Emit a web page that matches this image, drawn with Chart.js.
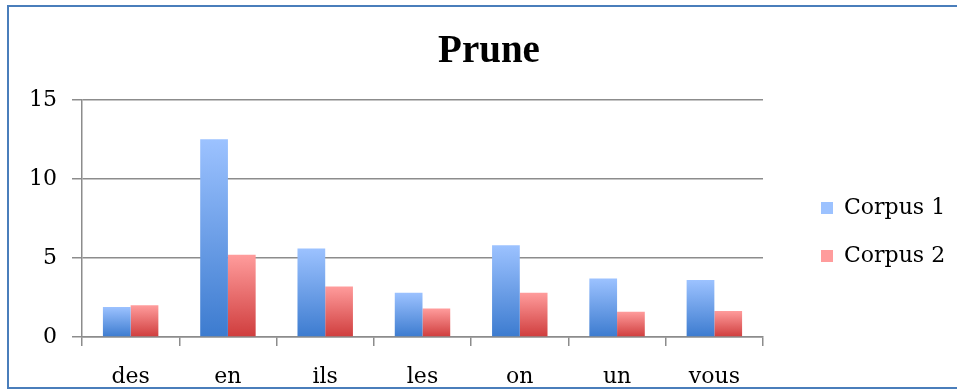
<!DOCTYPE html>
<html>
<head>
<meta charset="utf-8">
<script src="https://cdn.jsdelivr.net/npm/chart.js@4"></script>
<style>
  body { margin: 0; background: #fff; }
  #frame {
    position: absolute; left: 7px; top: 5px;
    width: 960px; height: 380px;
    border-left: 2px solid #4a7ebb; border-top: 2px solid #4a7ebb; border-bottom: 2px solid #4a7ebb;
    overflow: hidden;
  }
  #myChart { position: absolute; left: 0; top: 0; }
</style>
</head>
<body>
<div id="frame"><canvas id="myChart" width="960" height="400"></canvas></div>
<script>
var categories = ["des", "en", "ils", "les", "on", "un", "vous"];
var corpus1 = [1.9, 12.5, 5.6, 2.8, 5.8, 3.7, 3.6];
var corpus2 = [2.0, 5.2, 3.2, 1.8, 2.8, 1.6, 1.65];

var serif = "'DejaVu Serif', serif";

// vertical gradient from the top of each bar down to the zero line
function barGradient(top, bottom, mid) {
  return function(ctx) {
    var chart = ctx.chart;
    if (!chart.chartArea || ctx.raw === undefined) return mid;
    var y = chart.scales.y;
    var g = chart.ctx.createLinearGradient(0, y.getPixelForValue(ctx.raw), 0, y.getPixelForValue(0));
    g.addColorStop(0, top);
    g.addColorStop(1, bottom);
    return g;
  };
}

// leave some empty room on the right side of the legend
var legendRoom = {
  id: "legendRoom",
  beforeLayout: function(chart) {
    var lg = chart.legend;
    if (lg && !lg._roomAdded) {
      var fit = lg.fit;
      lg.fit = function() {
        fit.call(this);
        this.width += 14;
      };
      lg._roomAdded = true;
    }
  }
};

var ctx = document.getElementById("myChart").getContext("2d");
var myChart = new Chart(ctx, {
  type: "bar",
  data: {
    labels: categories,
    datasets: [
      { label: "Corpus 1", data: corpus1, backgroundColor: barGradient("#9cc2ff", "#3c7bcf", "#5f95e2") },
      { label: "Corpus 2", data: corpus2, backgroundColor: barGradient("#ff9c9c", "#cf3d3d", "#e66a6a") }
    ]
  },
  plugins: [legendRoom],
  options: {
    responsive: false,
    animation: false,
    layout: { padding: 0 },
    datasets: { bar: { categoryPercentage: 0.57, barPercentage: 1.0 } },
    plugins: {
      title: {
        display: true,
        text: "Prune",
        color: "#000",
        font: { family: "'Liberation Serif', serif", size: 39, weight: "bold" },
        padding: { top: 22, bottom: 24 }
      },
      legend: {
        position: "right",
        title: { display: true, text: " ", font: { size: 10 }, padding: 19 },
        labels: {
          color: "#000",
          font: { family: serif, size: 22 },
          boxWidth: 12,
          boxHeight: 12,
          padding: 26
        }
      },
      tooltip: { enabled: false }
    },
    scales: {
      x: {
        grid: { drawOnChartArea: false, drawTicks: true, tickLength: 9, color: "#8c8c8c", lineWidth: 1.5 },
        border: { color: "#8c8c8c", width: 1.5 },
        ticks: { color: "#000", font: { family: serif, size: 22 }, padding: 18 },
        afterFit: function(scale) { scale.height = 70; }
      },
      y: {
        min: 0,
        max: 15,
        ticks: { stepSize: 5, color: "#000", font: { family: serif, size: 22 }, padding: 15 },
        grid: { color: "#8c8c8c", lineWidth: 1.5, tickLength: 10 },
        border: { color: "#8c8c8c", width: 1.5 },
        afterFit: function(scale) { scale.width = 73; }
      },
      // empty spacer between the plot and the legend
      gap: {
        type: "linear",
        position: "right",
        display: true,
        ticks: { display: false },
        grid: { display: false },
        border: { display: false },
        afterFit: function(scale) { scale.width = 32; }
      }
    }
  }
});
</script>
</body>
</html>
